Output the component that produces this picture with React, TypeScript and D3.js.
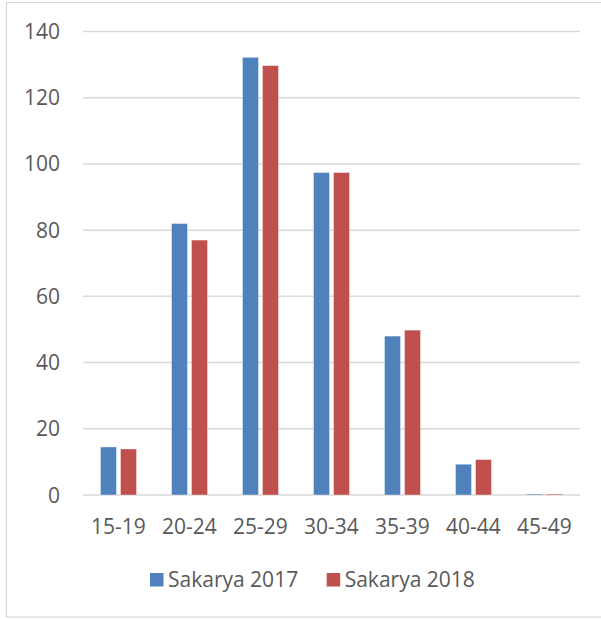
import React from "react";
import * as d3 from "d3";

const categories = ["15-19", "20-24", "25-29", "30-34", "35-39", "40-44", "45-49"];
const seriesNames = ["Sakarya 2017", "Sakarya 2018"];
const values2017 = [14.5, 82, 132.2, 97.4, 48, 9.3, 0.3];
const values2018 = [13.9, 77, 129.7, 97.4, 49.8, 10.7, 0.3];
const yTicks = [0, 20, 40, 60, 80, 100, 120, 140];
const colors = ["#4f81bd", "#c0504d"];

const W = 601;
const H = 619;
const left = 83;
const right = 580;
const top = 31.5;
const bottom = 495;
const FONT = "'Open Sans', sans-serif";
const TEXT = "#595959";
const GRID = "#d9d9d9";
const FS = 21;

export default function App() {
  const x0 = d3.scaleBand<string>().domain(categories).range([left, right]);
  const x1 = d3.scaleBand<string>().domain(seriesNames).range([-18, 18]).paddingInner(0.2);
  const y = d3.scaleLinear().domain([0, 140]).range([bottom, top]);
  const data = [values2017, values2018];
  const legendX = [150, 326.7];

  return (
    <div style={{ position: "absolute", left: 0, top: 0 }}>
      <svg width={W} height={H} style={{ display: "block" }}>
        <rect x={0} y={0} width={W} height={H} fill="#fff" />
        <rect x={6.5} y={2.5} width={W + 10} height={614.5} fill="none" stroke={GRID} strokeWidth={1.2} />
        {yTicks.map((t) => (
          <g key={t}>
            <line x1={left} x2={right} y1={y(t)} y2={y(t)} stroke={GRID} strokeWidth={1.5} />
            <text x={60} y={y(t)} dy="0.36em" textAnchor="end" fontFamily={FONT} fontSize={FS} fill={TEXT}>
              {t}
            </text>
          </g>
        ))}
        {categories.map((c, i) => {
          const cx = (x0(c) as number) + x0.bandwidth() / 2;
          return (
            <g key={c}>
              {seriesNames.map((s, j) => {
                const v = data[j][i];
                return (
                  <rect
                    key={s}
                    x={cx + (x1(s) as number)}
                    width={x1.bandwidth()}
                    y={y(v)}
                    height={bottom - y(v)}
                    fill={colors[j]}
                    stroke="#fff"
                    strokeOpacity={0.5}
                    strokeWidth={0.75}
                  />
                );
              })}
              <text x={cx} y={533.5} textAnchor="middle" fontFamily={FONT} fontSize={FS} fill={TEXT}>
                {c}
              </text>
            </g>
          );
        })}
        {seriesNames.map((s, j) => (
          <g key={s}>
            <rect x={legendX[j]} y={573} width={13.5} height={13.5} fill={colors[j]} />
            <text x={legendX[j] + 18} y={587} fontFamily={FONT} fontSize={FS} fill={TEXT}>
              {s}
            </text>
          </g>
        ))}
      </svg>
    </div>
  );
}
